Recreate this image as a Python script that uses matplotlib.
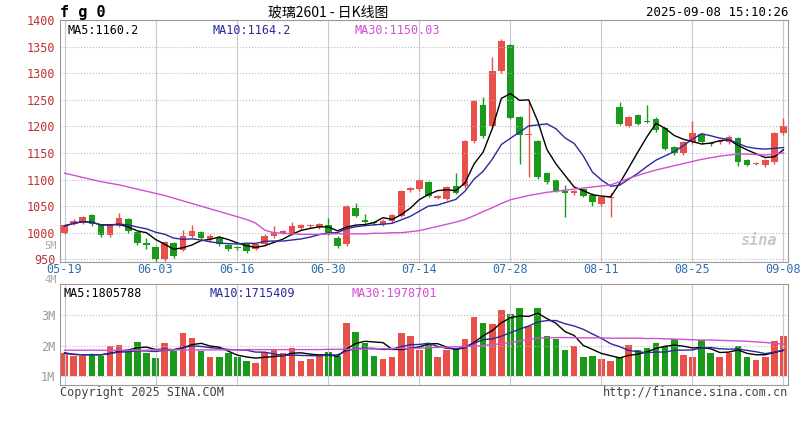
import matplotlib
matplotlib.use("Agg")
import matplotlib.pyplot as plt
import numpy as np
import pandas as pd

plt.rcParams['font.family'] = ['DejaVu Sans Mono', 'Noto Sans CJK SC']

opens = [1000,1018,1019,1032,1013,995,1013,1025,1001,980,972,950,980,968,994,1000,988,990,976,972,
         978,970,978,994,1000,998,1008,1012,1010,1013,990,978,1046,1024,1020,1016,1022,1032,1080,1082,
         1095,1066,1064,1087,1088,1172,1240,1200,1304,1352,1216,1183,1171,1112,1098,1077,1074,1082,1071,1054,
         1065,1235,1201,1220,1210,1214,1196,1161,1149,1170,1185,1168,1170,1170,1177,1136,1130,1127,1133,1187]
closes = [1013,1022,1028,1016,995,1013,1027,1003,980,977,950,982,956,994,1003,991,994,978,970,971,
          965,978,994,1001,1002,1011,1014,1013,1016,1000,975,1049,1032,1021,1018,1022,1032,1077,1083,1098,
          1070,1068,1085,1075,1171,1247,1181,1304,1360,1216,1184,1185,1104,1095,1079,1075,1077,1070,1057,1066,
          1067,1205,1216,1205,1209,1193,1158,1149,1170,1187,1170,1167,1171,1180,1133,1128,1130,1136,1187,1199]
highs_extra = {6:1038,9:990,13:1005,14:1015,23:1012,25:1020,29:1028,32:1056,33:1035,43:1112,46:1255,47:1330,48:1365,
               51:1245,55:1090,60:1075,61:1245,64:1240,69:1210,79:1215}
lows_extra = {9:970,18:965,29:995,50:1130,51:1105,55:1030,60:1030,58:1050,74:1125}
ma30 = [1112,1108,1104,1100,1096,1093,1090,1086,1082,1078,1074,1070,1065,1060,1055,1050,1045,1040,1035,1030,
        1025,1018,1005,1000,999,998,997,997,997,998,998,998,998,998,999,999,1000,1000,1002,1004,
        1008,1012,1016,1020,1025,1032,1040,1047,1055,1062,1066,1070,1073,1076,1078,1080,1082,1084,1086,1088,
        1090,1096,1102,1108,1113,1118,1122,1126,1130,1134,1138,1141,1144,1146,1148,1148,1147,1146,1148,1150]
volumes = [1.76,1.67,1.67,1.73,1.67,1.98,2.03,1.87,2.11,1.76,1.59,2.07,1.81,2.42,2.26,1.81,1.62,1.64,1.76,1.62,
           1.51,1.44,1.78,1.87,1.76,1.91,1.51,1.56,1.73,1.78,1.67,2.72,2.44,2.09,1.67,1.56,1.62,2.42,2.31,1.87,
           2.07,1.64,1.87,1.89,2.20,2.92,2.72,2.70,3.17,3.01,3.23,2.62,3.23,2.31,2.23,1.87,2.00,1.62,1.67,1.56,
           1.51,1.64,2.03,1.87,1.92,2.09,1.98,2.22,1.70,1.62,2.18,1.76,1.62,1.76,1.98,1.62,1.53,1.62,2.14,2.31]
vol_ma30 = [1.85,1.85,1.85,1.85,1.85,1.85,1.85,1.85,1.85,1.85,1.86,1.86,1.86,1.86,1.86,1.86,1.86,1.86,1.86,1.86,
            1.87,1.87,1.87,1.87,1.87,1.87,1.87,1.87,1.87,1.88,1.88,1.88,1.89,1.89,1.89,1.90,1.90,1.91,1.91,1.92,
            1.93,1.94,1.95,1.96,1.97,1.98,2.00,2.03,2.06,2.10,2.15,2.20,2.24,2.25,2.26,2.26,2.26,2.25,2.25,2.25,
            2.24,2.24,2.24,2.24,2.23,2.23,2.22,2.21,2.20,2.19,2.18,2.18,2.17,2.16,2.15,2.14,2.12,2.10,2.07,2.05]
date_ticks = {0:'05-19',10:'06-03',19:'06-16',29:'06-30',39:'07-14',49:'07-28',59:'08-11',69:'08-25',79:'09-08'}

n = len(closes)
x = np.arange(n)
o = np.array(opens); c = np.array(closes)
h = np.maximum(o, c) + 3; l = np.minimum(o, c) - 3
for k, v in highs_extra.items(): h[k] = v
for k, v in lows_extra.items(): l[k] = v
up = c >= o
RED, GREEN = '#e8504a', '#1a9a1a'
cols = np.where(up, RED, GREEN)
s = pd.Series(c)
ma5 = s.rolling(5, min_periods=1).mean(); ma10 = s.rolling(10, min_periods=1).mean()
vs = pd.Series(volumes)
vma5 = vs.rolling(5, min_periods=1).mean(); vma10 = vs.rolling(10, min_periods=1).mean()

fig = plt.figure(figsize=(8, 4.36), dpi=100)
W, H = 800, 436
ax = fig.add_axes([60/W, 1-262/H, 728/W, 242/H])
av = fig.add_axes([60/W, 1-385/H, 728/W, 101/H])

for a in (ax, av):
    a.set_xlim(-0.5, n - 0.5)
    for sp in a.spines.values(): sp.set_color('#999999')
    a.set_xticks(list(date_ticks.keys()))
    a.grid(True, axis='x', color='#c8c8d8', lw=0.8)
    a.tick_params(length=0, labelsize=8.5)
ax.tick_params(axis='x', pad=1)

ax.vlines(x, l, h, colors=cols, lw=1)
ax.bar(x, np.abs(c - o) + 0.8, bottom=np.minimum(o, c), color=cols, width=0.72)
ax.plot(x, ma5, color='black', lw=1)
ax.plot(x, ma10, color='#2a2a9a', lw=1)
ax.plot(x, ma30, color='#d050d0', lw=1)
ax.set_ylim(945, 1400)
ax.set_yticks(range(950, 1401, 50))
ax.set_yticklabels([str(v) for v in range(950, 1401, 50)], color='#c03030')
ax.grid(True, axis='y', color='#bbbbbb', ls=':', lw=0.8)
ax.set_xticklabels(list(date_ticks.values()), color='#3070b0')
ax.text(0.01, 0.985, 'MA5:1160.2', transform=ax.transAxes, va='top', fontsize=8.5, color='black')
ax.text(0.21, 0.985, 'MA10:1164.2', transform=ax.transAxes, va='top', fontsize=8.5, color='#2a2a9a')
ax.text(0.405, 0.985, 'MA30:1150.03', transform=ax.transAxes, va='top', fontsize=8.5, color='#d050d0')
ax.text(0.985, 0.07, 'sina', transform=ax.transAxes, ha='right', fontsize=11, color='#c8c8c8', style='italic', weight='bold')

av.bar(x, np.array(volumes) - 1, bottom=1, color=cols, width=0.72)
av.plot(x, vma5, color='black', lw=1)
av.plot(x, vma10, color='#2a2a9a', lw=1)
av.plot(x, vol_ma30, color='#d050d0', lw=1)
av.set_ylim(0.72, 4)
av.set_yticks([1, 2, 3])
av.set_yticklabels(['1M', '2M', '3M'], color='#999999')
av.grid(True, axis='y', color='#bbbbbb', ls=':', lw=0.8)
av.set_xticklabels([])
av.text(0.005, 0.97, 'MA5:1805788', transform=av.transAxes, va='top', fontsize=8.5, color='black')
av.text(0.205, 0.97, 'MA10:1715409', transform=av.transAxes, va='top', fontsize=8.5, color='#2a2a9a')
av.text(0.40, 0.97, 'MA30:1978701', transform=av.transAxes, va='top', fontsize=8.5, color='#d050d0')

fig.text(60/W, 1-13/H, 'f g 0', fontsize=11, weight='bold', va='center')
fig.text(0.41, 1-13/H, '玻璃2601 - 日K线图', fontsize=10, va='center', ha='center',
         family=['Noto Sans CJK SC', 'DejaVu Sans'])
fig.text(788/W, 1-13/H, '2025-09-08 15:10:26', fontsize=9, va='center', ha='right')
fig.text(57/W, 1-246/H, '5M', fontsize=7.5, va='center', ha='right', color='#aaaaaa')
fig.text(57/W, 1-280/H, '4M', fontsize=7.5, va='center', ha='right', color='#aaaaaa')
fig.text(60/W, 1-392/H, 'Copyright 2025 SINA.COM', fontsize=8.5, va='center', color='#444444')
fig.text(788/W, 1-392/H, 'http://finance.sina.com.cn', fontsize=8.5, va='center', ha='right', color='#444444')

fig.savefig('out.png', dpi=100, facecolor='white')
